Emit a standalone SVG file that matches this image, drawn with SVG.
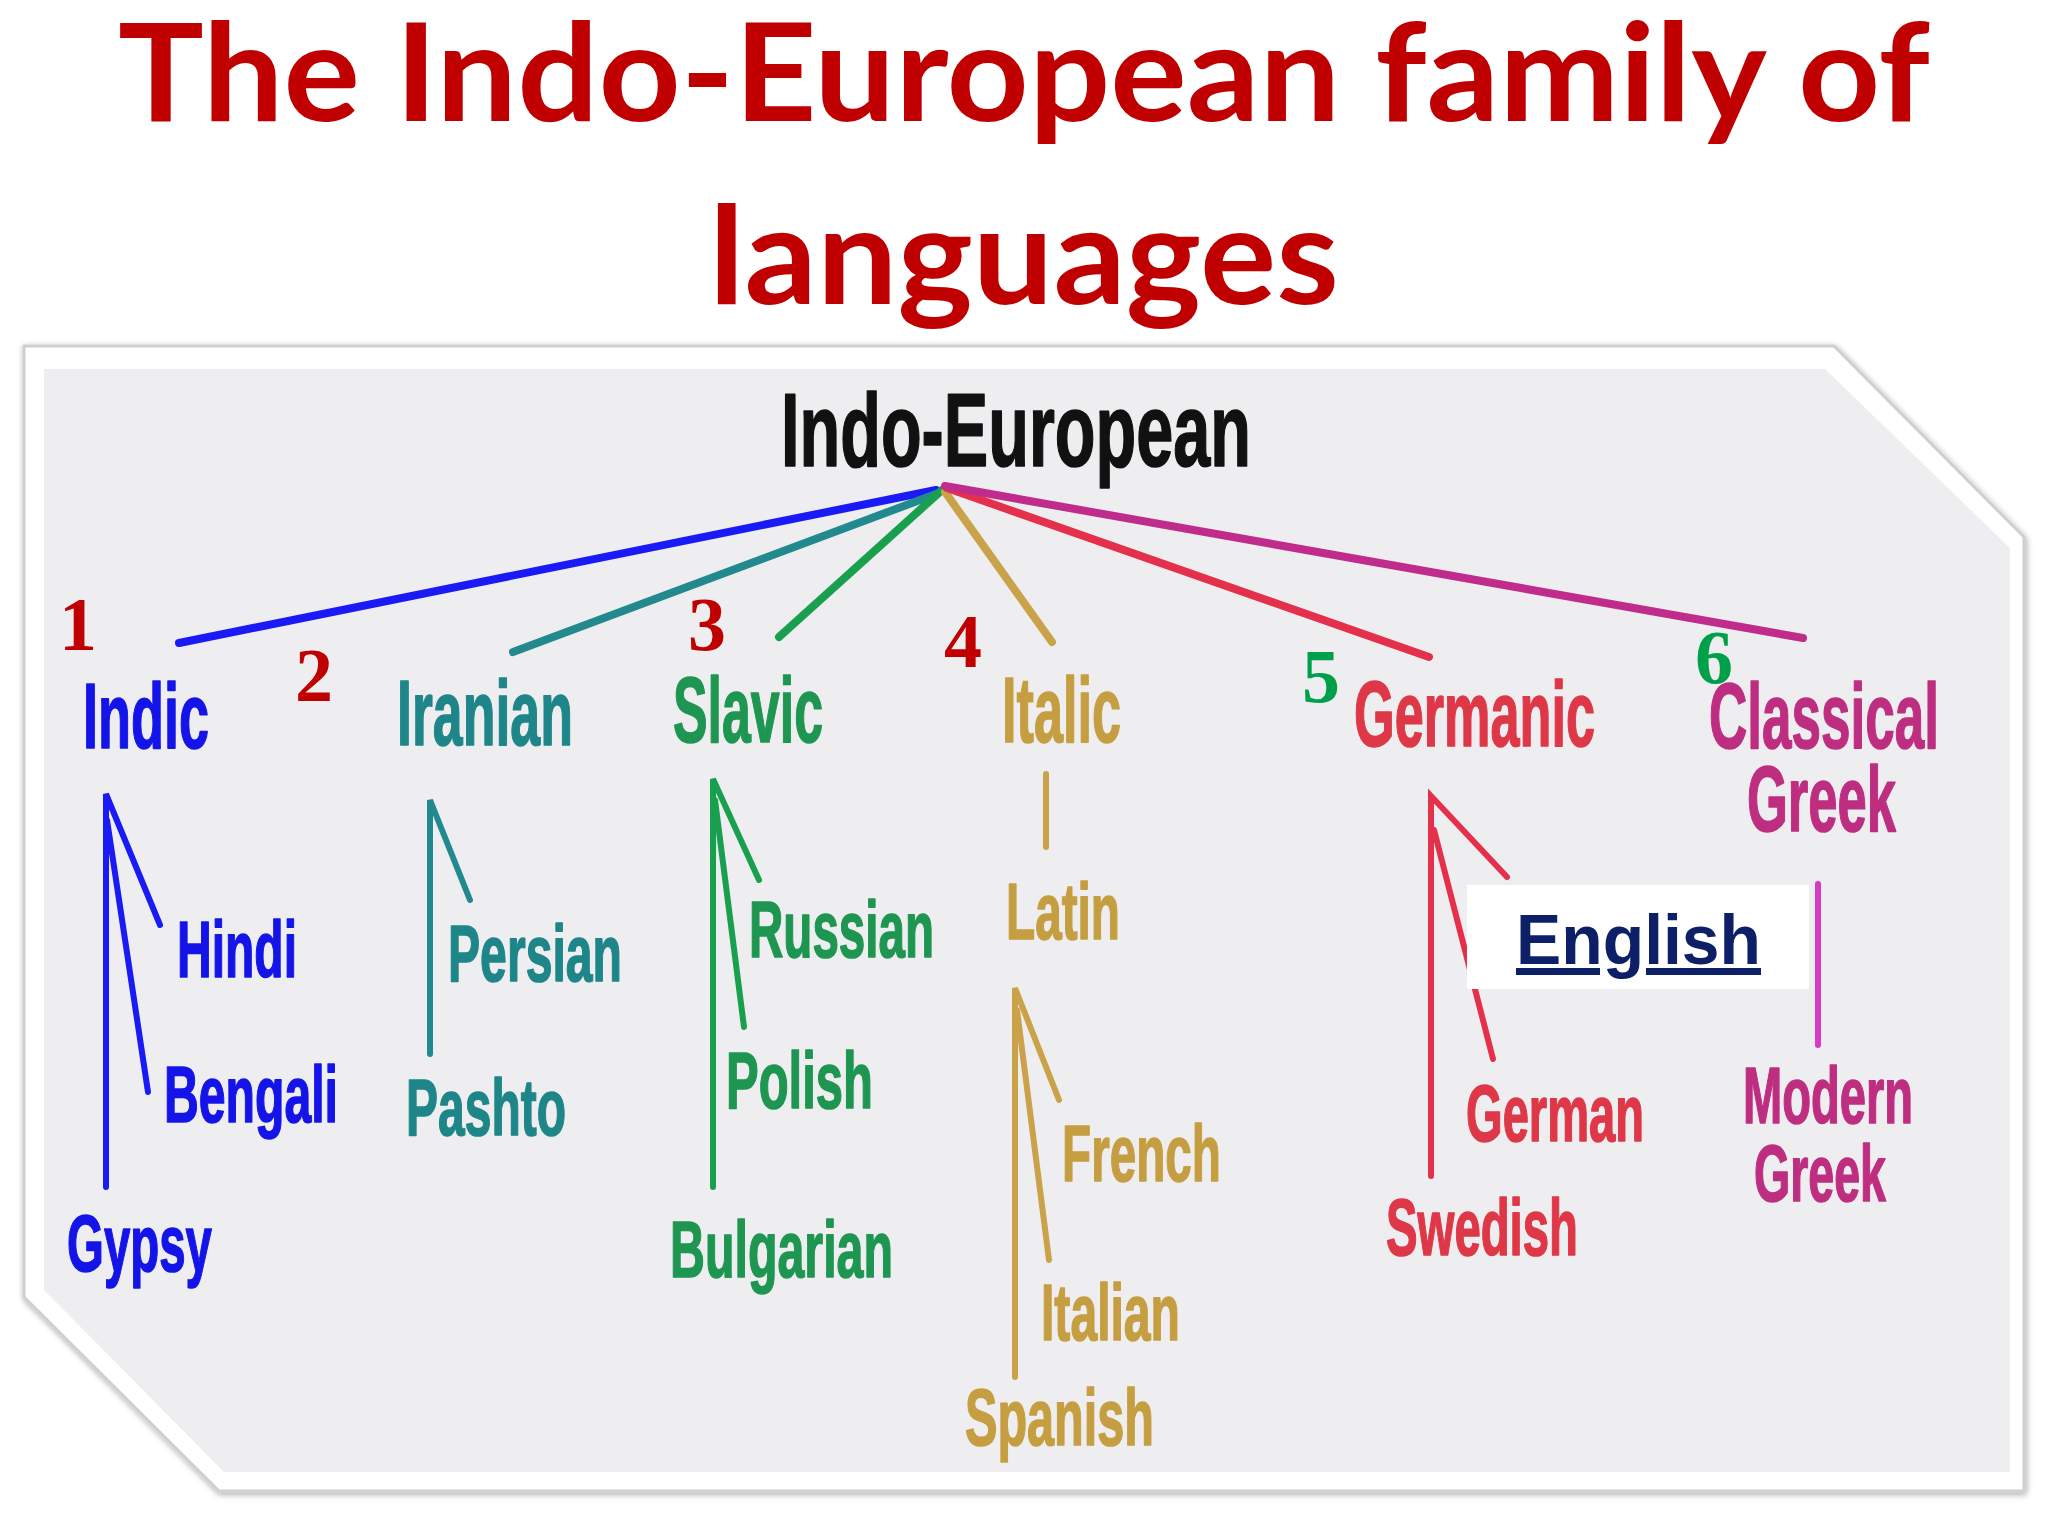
<svg xmlns="http://www.w3.org/2000/svg" width="2048" height="1536" viewBox="0 0 2048 1536">
<defs>
<style>
.title{font-family:Lato,"Open Sans","Liberation Sans",sans-serif;font-weight:700;fill:#C00000}
.lbl{font-family:"Liberation Sans",Arial,sans-serif;font-weight:700;stroke-width:1.6;stroke-linejoin:round}
.big{font-size:92px}
.sub{font-size:80px}
.num{font-family:"Liberation Serif","Times New Roman",serif;font-weight:700;font-size:76px}
.red{fill:#C00000}
.grn{fill:#00A04A}
.c-blue{fill:#1414E8;stroke:#1414E8}
.c-teal{fill:#1E8688;stroke:#1E8688}
.c-green{fill:#1E9651;stroke:#1E9651}
.c-gold{fill:#C69E42;stroke:#C69E42}
.c-red{fill:#DE3848;stroke:#DE3848}
.c-mag{fill:#BE2E80;stroke:#BE2E80}
.c-blk{fill:#111111;stroke:#111111}
.ln{fill:none;stroke-linecap:round}
.main{stroke-width:8}
.br{stroke-width:6}
</style>
<filter id="sh" x="-5%" y="-5%" width="110%" height="110%">
<feGaussianBlur in="SourceAlpha" stdDeviation="3"/>
<feOffset dx="1" dy="2"/>
<feComponentTransfer><feFuncA type="linear" slope="0.35"/></feComponentTransfer>
<feMerge><feMergeNode/><feMergeNode in="SourceGraphic"/></feMerge>
</filter>
</defs>
<rect width="2048" height="1536" fill="#FFFFFF"/>
<g id="title">
<text class="title" x="1024" y="121" font-size="136" text-anchor="middle" textLength="1812" lengthAdjust="spacingAndGlyphs">The Indo-European family of</text>
<text class="title" x="1024" y="304" font-size="136" text-anchor="middle" textLength="630" lengthAdjust="spacingAndGlyphs">languages</text>
</g>
<g id="panel">
<polygon points="24,346 1834,346 2024,537 2024,1491 219,1491 24,1297" fill="#FFFFFF" stroke="#CFCFCF" stroke-width="3" filter="url(#sh)"/>
<polygon points="44,369 1825,369 2010,548 2010,1472 224,1472 44,1290" fill="#EEEEF0"/>
</g>
<g id="connectors">
<g class="ln main">
<line x1="936" y1="490" x2="179" y2="643" stroke="#1A1AF5"/>
<line x1="936" y1="494" x2="513" y2="652" stroke="#22898F"/>
<line x1="942" y1="490" x2="779" y2="637" stroke="#18A04F"/>
<line x1="945" y1="492" x2="1052" y2="642" stroke="#C9A24A"/>
<line x1="947" y1="488" x2="1429" y2="657" stroke="#E4304A"/>
<line x1="945" y1="486" x2="1803" y2="638" stroke="#C02C8C"/>
</g>
<g class="ln br">
<path d="M106 1187 L106 794 L160 925 M107 820 L148 1092" stroke="#1A1AF5"/>
<path d="M430 1054 L430 800 L470 900" stroke="#22898F"/>
<path d="M713 1187 L713 779 L759 880 M715 800 L744 1027" stroke="#18A04F"/>
<path d="M1046 774 L1046 847" stroke="#C9A24A"/>
<path d="M1015 1377 L1015 988 L1059 1100 M1017 1010 L1049 1260" stroke="#C9A24A"/>
<path d="M1431 1176 L1431 796 L1507 877 M1434 830 L1493 1059" stroke="#E4304A"/>
<path d="M1818 884 L1818 1045" stroke="#D53BC4"/>
</g>
</g>
<g id="node-root"><text class="lbl c-blk" x="781" y="466" font-size="103" textLength="470" lengthAdjust="spacingAndGlyphs">Indo-European</text></g>
<g id="num-1"><text class="num red" x="59" y="650">1</text></g>
<g id="num-2"><text class="num red" x="295" y="701">2</text></g>
<g id="num-3"><text class="num red" x="688" y="650">3</text></g>
<g id="num-4"><text class="num red" x="944" y="667">4</text></g>
<g id="num-5"><text class="num grn" x="1302" y="702">5</text></g>
<g id="num-6"><text class="num grn" x="1695" y="683">6</text></g>
<g id="node-indic"><text class="lbl big c-blue" x="83" y="748" textLength="126" lengthAdjust="spacingAndGlyphs">Indic</text></g>
<g id="node-iranian"><text class="lbl big c-teal" x="397" y="745" textLength="176" lengthAdjust="spacingAndGlyphs">Iranian</text></g>
<g id="node-slavic"><text class="lbl big c-green" x="673" y="742" textLength="150" lengthAdjust="spacingAndGlyphs">Slavic</text></g>
<g id="node-italic"><text class="lbl big c-gold" x="1002" y="742" textLength="119" lengthAdjust="spacingAndGlyphs">Italic</text></g>
<g id="node-germanic"><text class="lbl big c-red" x="1354" y="746" textLength="241" lengthAdjust="spacingAndGlyphs">Germanic</text></g>
<g id="node-classical-greek">
<text class="lbl big c-mag" x="1709" y="748" textLength="230" lengthAdjust="spacingAndGlyphs">Classical</text>
<text class="lbl big c-mag" x="1747" y="831" textLength="149" lengthAdjust="spacingAndGlyphs">Greek</text>
</g>
<g id="node-hindi"><text class="lbl sub c-blue" x="177" y="977" textLength="120" lengthAdjust="spacingAndGlyphs">Hindi</text></g>
<g id="node-bengali"><text class="lbl sub c-blue" x="164" y="1122" textLength="174" lengthAdjust="spacingAndGlyphs">Bengali</text></g>
<g id="node-gypsy"><text class="lbl sub c-blue" x="67" y="1271" textLength="145" lengthAdjust="spacingAndGlyphs">Gypsy</text></g>
<g id="node-persian"><text class="lbl sub c-teal" x="448" y="981" textLength="174" lengthAdjust="spacingAndGlyphs">Persian</text></g>
<g id="node-pashto"><text class="lbl sub c-teal" x="406" y="1135" textLength="160" lengthAdjust="spacingAndGlyphs">Pashto</text></g>
<g id="node-russian"><text class="lbl sub c-green" x="749" y="957" textLength="185" lengthAdjust="spacingAndGlyphs">Russian</text></g>
<g id="node-polish"><text class="lbl sub c-green" x="726" y="1108" textLength="147" lengthAdjust="spacingAndGlyphs">Polish</text></g>
<g id="node-bulgarian"><text class="lbl sub c-green" x="670" y="1277" textLength="223" lengthAdjust="spacingAndGlyphs">Bulgarian</text></g>
<g id="node-latin"><text class="lbl sub c-gold" x="1006" y="939" textLength="114" lengthAdjust="spacingAndGlyphs">Latin</text></g>
<g id="node-french"><text class="lbl sub c-gold" x="1062" y="1181" textLength="159" lengthAdjust="spacingAndGlyphs">French</text></g>
<g id="node-italian"><text class="lbl sub c-gold" x="1041" y="1340" textLength="139" lengthAdjust="spacingAndGlyphs">Italian</text></g>
<g id="node-spanish"><text class="lbl sub c-gold" x="965" y="1445" textLength="189" lengthAdjust="spacingAndGlyphs">Spanish</text></g>
<g id="node-german"><text class="lbl sub c-red" x="1466" y="1141" textLength="178" lengthAdjust="spacingAndGlyphs">German</text></g>
<g id="node-swedish"><text class="lbl sub c-red" x="1386" y="1255" textLength="192" lengthAdjust="spacingAndGlyphs">Swedish</text></g>
<g id="node-modern-greek">
<text class="lbl sub c-mag" x="1743" y="1123" textLength="170" lengthAdjust="spacingAndGlyphs">Modern</text>
<text class="lbl sub c-mag" x="1754" y="1201" textLength="132" lengthAdjust="spacingAndGlyphs">Greek</text>
</g>
<g id="node-english">
<rect x="1467" y="885" width="342" height="104" fill="#FFFFFF"/>
<text x="1516" y="964" font-family="'Liberation Sans',Arial,sans-serif" font-weight="700" font-size="70" fill="#0D1F66" text-decoration="underline" textLength="245" lengthAdjust="spacingAndGlyphs">English</text>
</g>
</svg>
